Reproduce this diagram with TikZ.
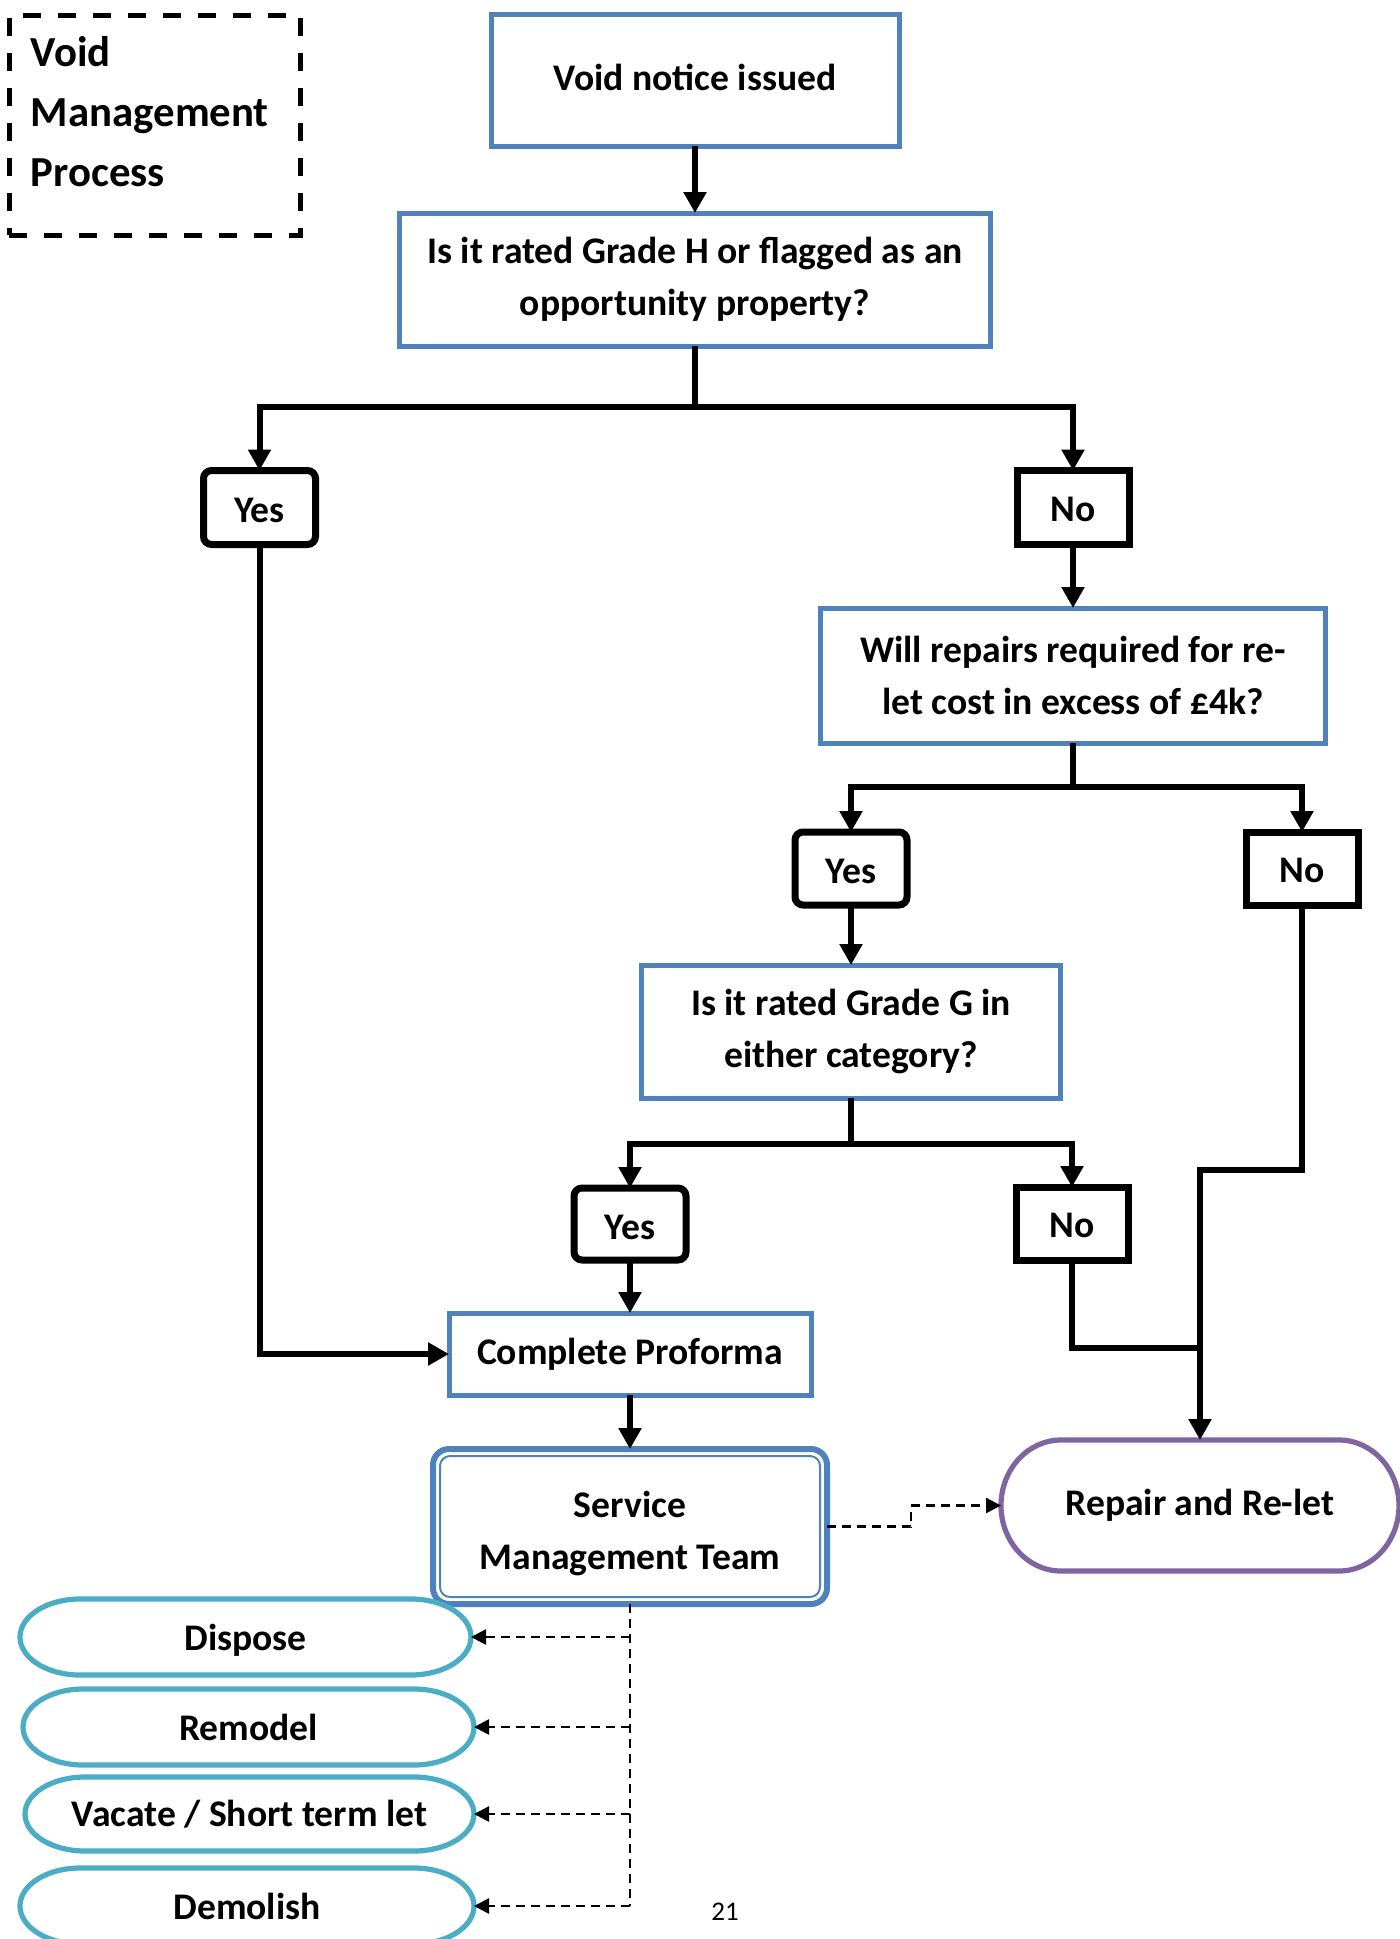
\documentclass[tikz,border=0pt]{standalone}
\usepackage{fontspec}
\setmainfont{Carlito}
\usetikzlibrary{arrows.meta,calc}
\definecolor{boxblue}{HTML}{4F81BD}
\definecolor{ovalteal}{HTML}{4BACC6}
\definecolor{pillpurple}{HTML}{8064A2}
\newcommand\shifttext[2]{\raisebox{#1}[\height][\depth]{#2}}
\begin{document}
\begin{tikzpicture}[x=0.5pt,y=-0.5pt,
  every node/.style={font=\bfseries\fontsize{18.8}{26}\selectfont, align=center, inner sep=0pt, outer sep=0pt},
  bluebox/.style={draw=boxblue, line width=2.5pt, rectangle},
  answer/.style={draw=black, line width=3.5pt, minimum width=56pt, minimum height=37pt},
  yesbox/.style={answer, rounded corners=4pt},
  nobox/.style={answer},
  flow/.style={line width=3pt, -{Triangle[length=10.5pt,width=11pt]}},
  flowline/.style={line width=3pt},
  dflow/.style={line width=1.2pt, dash pattern=on 4.5pt off 3pt, -{Triangle[length=7.5pt,width=7.5pt]}},
  dline/.style={line width=1.2pt, dash pattern=on 4.5pt off 3pt},
  pillline/.style={line width=2.6pt},
]
\useasboundingbox (0,0) rectangle (1400,1939);

% title
\node[draw=black, line width=2.5pt, dash pattern=on 9pt off 8.5pt, minimum width=145.5pt, minimum height=110pt] (titlebox) at (154.5,125) {};
\node[anchor=west, align=left, font=\bfseries\fontsize{21.4}{30}\selectfont] (titletext) at (31,112) {Void\\Management\\Process};

% main boxes
\node[bluebox, minimum width=204pt, minimum height=66pt] (void) at (695,80) {\shifttext{1.5pt}{Void notice issued}};
\node[bluebox, minimum width=295.5pt, minimum height=66.5pt] (gradeH) at (695,279.5) {Is it rated Grade H or flagged as an\\opportunity property?};
\node[yesbox] (yes1) at (259.5,507.5) {\shifttext{-1.5pt}{Yes}};
\node[nobox] (no1) at (1073,507.5) {\shifttext{-0.8pt}{No}};
\node[bluebox, minimum width=252.5pt, minimum height=67.5pt] (will) at (1073,675.5) {Will repairs required for re-\\let cost in excess of £4k?};
\node[yesbox, minimum height=36.5pt] (yes2) at (851,868.5) {\shifttext{-1.5pt}{Yes}};
\node[nobox, minimum height=36.5pt] (no2) at (1302,868.5) {\shifttext{-0.8pt}{No}};
\node[bluebox, minimum width=209.5pt, minimum height=66.5pt] (gradeG) at (851,1031.5) {Is it rated Grade G in\\either category?};
\node[yesbox, minimum height=36pt] (yes3) at (630,1224) {\shifttext{-1.5pt}{Yes}};
\node[nobox, minimum height=36.5pt] (no3) at (1072,1223.5) {\shifttext{-0.8pt}{No}};
\node[bluebox, minimum width=181pt, minimum height=41pt] (proforma) at (630,1354) {Complete Proforma};
\node[draw=boxblue, line width=3pt, rounded corners=8pt, minimum width=197pt, minimum height=77.5pt] (smt) at (630,1526.5) {\shifttext{-3.5pt}{\begin{tabular}{@{}c@{}}Service\\Management Team\end{tabular}}};
\draw[boxblue, line width=1pt, rounded corners=5pt] ([shift={(7,7)}]smt.north west) rectangle ([shift={(-7,-7)}]smt.south east);

% terminal shapes
\node[minimum width=199pt, minimum height=65.5pt] (repair) at (1200,1505.5) {Repair and Re-let};
\node[minimum width=225.5pt, minimum height=38pt] (dispose) at (245.5,1637) {\shifttext{-1.8pt}{Dispose}};
\node[minimum width=225.5pt, minimum height=38pt] (remodel) at (248.5,1727) {Remodel};
\node[minimum width=224.5pt, minimum height=37pt] (vacate) at (249.5,1814) {Vacate / Short term let};
\node[minimum width=227pt, minimum height=38pt] (demolish) at (247,1906) {Demolish};

\foreach \n/\rx/\ry/\c in {repair/30/32.75/pillpurple, dispose/30/19/ovalteal, remodel/30/19/ovalteal, vacate/30/18.5/ovalteal, demolish/30/19/ovalteal}{
  \draw[pillline, draw=\c] ([xshift=\rx pt]\n.north west) -- ([xshift=-\rx pt]\n.north east)
    arc[start angle=90, end angle=-90, x radius=\rx pt, y radius=\ry pt]
    -- ([xshift=\rx pt]\n.south west)
    arc[start angle=270, end angle=90, x radius=\rx pt, y radius=\ry pt] -- cycle;
}

\node[font=\fontsize{13.5}{16}\selectfont] (page) at (725,1912) {21};

% connectors
\draw[flow] (void.south) -- (gradeH.north);
\draw[flow] (gradeH.south) -- ++(0,61) -| (yes1.north);
\draw[flow] (gradeH.south) -- ++(0,61) -| (no1.north);
\draw[flow] (no1.south) -- (will.north);
\draw[flow] (will.south) -- ++(0,44) -| (yes2.north);
\draw[flow] (will.south) -- ++(0,44) -| (no2.north);
\draw[flow] (yes2.south) -- (gradeG.north);
\draw[flow] (gradeG.south) -- ++(0,46) -| (yes3.north);
\draw[flow] (gradeG.south) -- ++(0,46) -| (no3.north);
\draw[flow] (yes3.south) -- (proforma.north);
\draw[flow] (yes1.south) |- (proforma.west);
\draw[flow] (proforma.south) -- (smt.north);
\draw[flow] (no2.south) -- ++(0,265) -| (repair.north);
\draw[flowline] (no3.south) -- ++(0,88) -| ($(repair.north)+(0,-40)$);

% dashed connectors
\draw[dflow] (smt.east) -- ++(84,0) |- (repair.west);
\draw[dline] (smt.south) -- (smt.south |- demolish.east);
\foreach \n in {dispose,remodel,vacate,demolish}{
  \draw[dflow] (smt.south |- \n.east) -- (\n.east);
}
\end{tikzpicture}
\end{document}
